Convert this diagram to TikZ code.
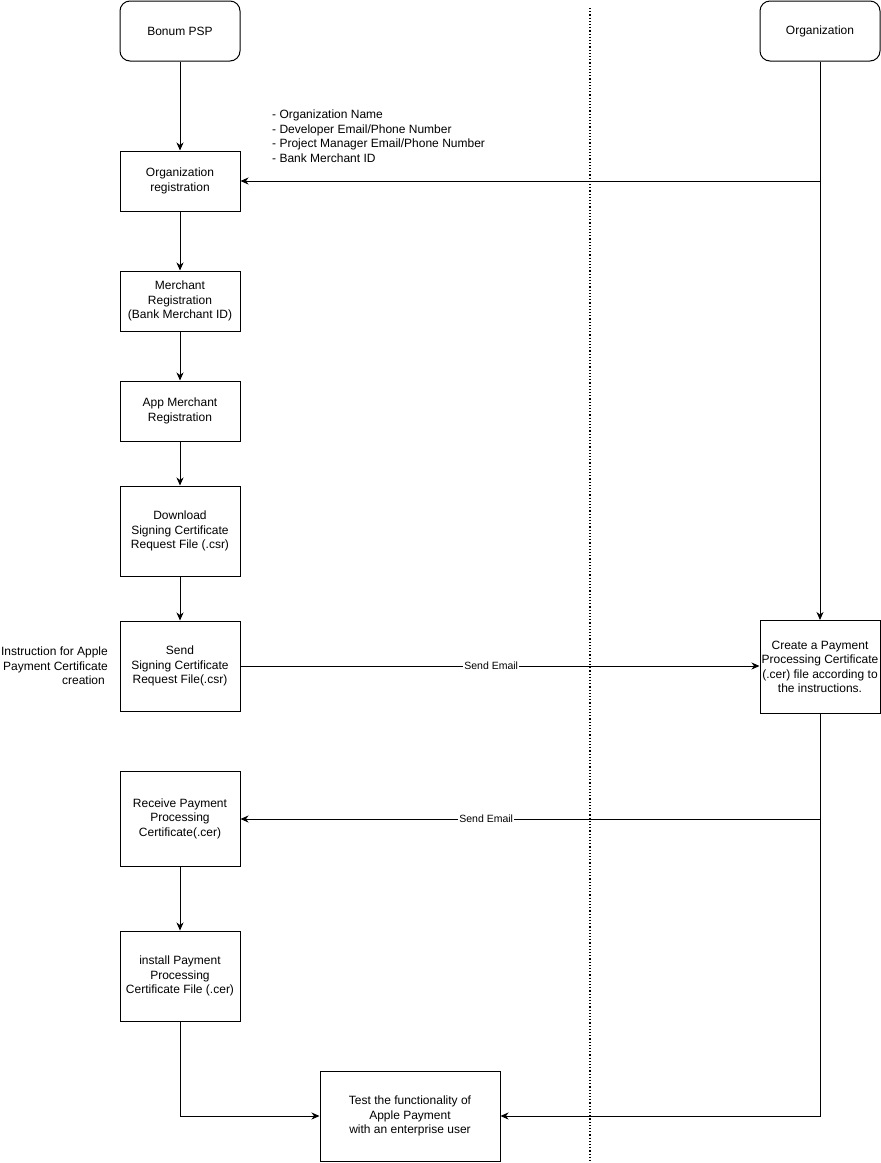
\documentclass[tikz,border=0pt]{standalone}
\usepackage{fontspec}
\setmainfont{Liberation Sans}
\usetikzlibrary{arrows.meta}
\begin{document}
\begin{tikzpicture}[x=1pt,y=-1pt,
  every node/.style={font=\fontsize{12}{14.5}\selectfont},
  box/.style={draw,line width=1pt,minimum width=120pt,align=center,inner sep=0pt},
  rbox/.style={box,rounded corners=10pt},
  arr/.style={line width=1pt,-{Stealth[length=8pt,width=7pt,inset=2.5pt]}},
  lbl/.style={fill=white,inner sep=1pt,font=\fontsize{10.5}{12}\selectfont}]
\useasboundingbox (0,0) rectangle (881,1163);
\draw[line width=1.2pt,dotted] (590,8) -- (590,1163);
\node[rbox,minimum height=60pt] (psp) at (180,31) {Bonum PSP};
\node[rbox,minimum height=60pt] (org) at (820,31) {Organization};
\node[box,minimum height=60pt] (reg) at (180,181) {Organization\\registration};
\node[box,minimum height=60pt] (mer) at (180,301) {Merchant\\Registration\\(Bank Merchant ID)};
\node[box,minimum height=60pt] (app) at (180,411) {App Merchant\\Registration};
\node[box,minimum height=90pt] (dl) at (180,531) {Download\\Signing Certificate\\Request File (.csr)};
\node[box,minimum height=90pt] (send) at (180,666) {Send\\Signing Certificate\\Request File(.csr)};
\node[box,minimum height=93pt] (cre) at (820,667) {Create a Payment\\Processing Certificate\\(.cer) file according to\\the instructions.};
\node[box,minimum height=95pt] (rec) at (180,818.5) {Receive Payment\\Processing\\Certificate(.cer)};
\node[box,minimum height=90pt] (ins) at (180,976) {install Payment\\Processing\\Certificate File (.cer)};
\node[box,minimum width=180pt,minimum height=90pt] (test) at (410,1116) {Test the functionality of\\Apple Payment\\with an enterprise user};
\node[align=left,anchor=north west,inner sep=0pt] (list) at (272,110) {- Organization Name\\- Developer Email/Phone Number\\- Project Manager Email/Phone Number\\- Bank Merchant ID};
\node[align=right,anchor=east,inner sep=0pt] (instr) at (108,666) {Instruction for Apple\\Payment Certificate\\creation\hspace*{3pt}};
\draw[arr] (psp) -- (reg);
\draw[arr] (reg) -- (mer);
\draw[arr] (mer) -- (app);
\draw[arr] (app) -- (dl);
\draw[arr] (dl) -- (send);
\draw[arr] (rec) -- (ins);
\draw[arr] (org) -- (cre);
\coordinate (c1) at (820,181);
\draw[arr] (c1) -- (reg.east |- c1);
\draw[arr] (send.east) -- node[lbl,pos=0.483] {Send Email} (cre.west |- send.east);
\coordinate (c2) at (820,819);
\draw[line width=1pt] (cre.south) -- (c2);
\draw[arr] (c2) -- node[lbl,pos=0.576] {Send Email} (rec.east |- c2);
\draw[arr] (cre.south) |- (test.east);
\draw[arr] (ins.south) |- (test.west);
\end{tikzpicture}
\end{document}
